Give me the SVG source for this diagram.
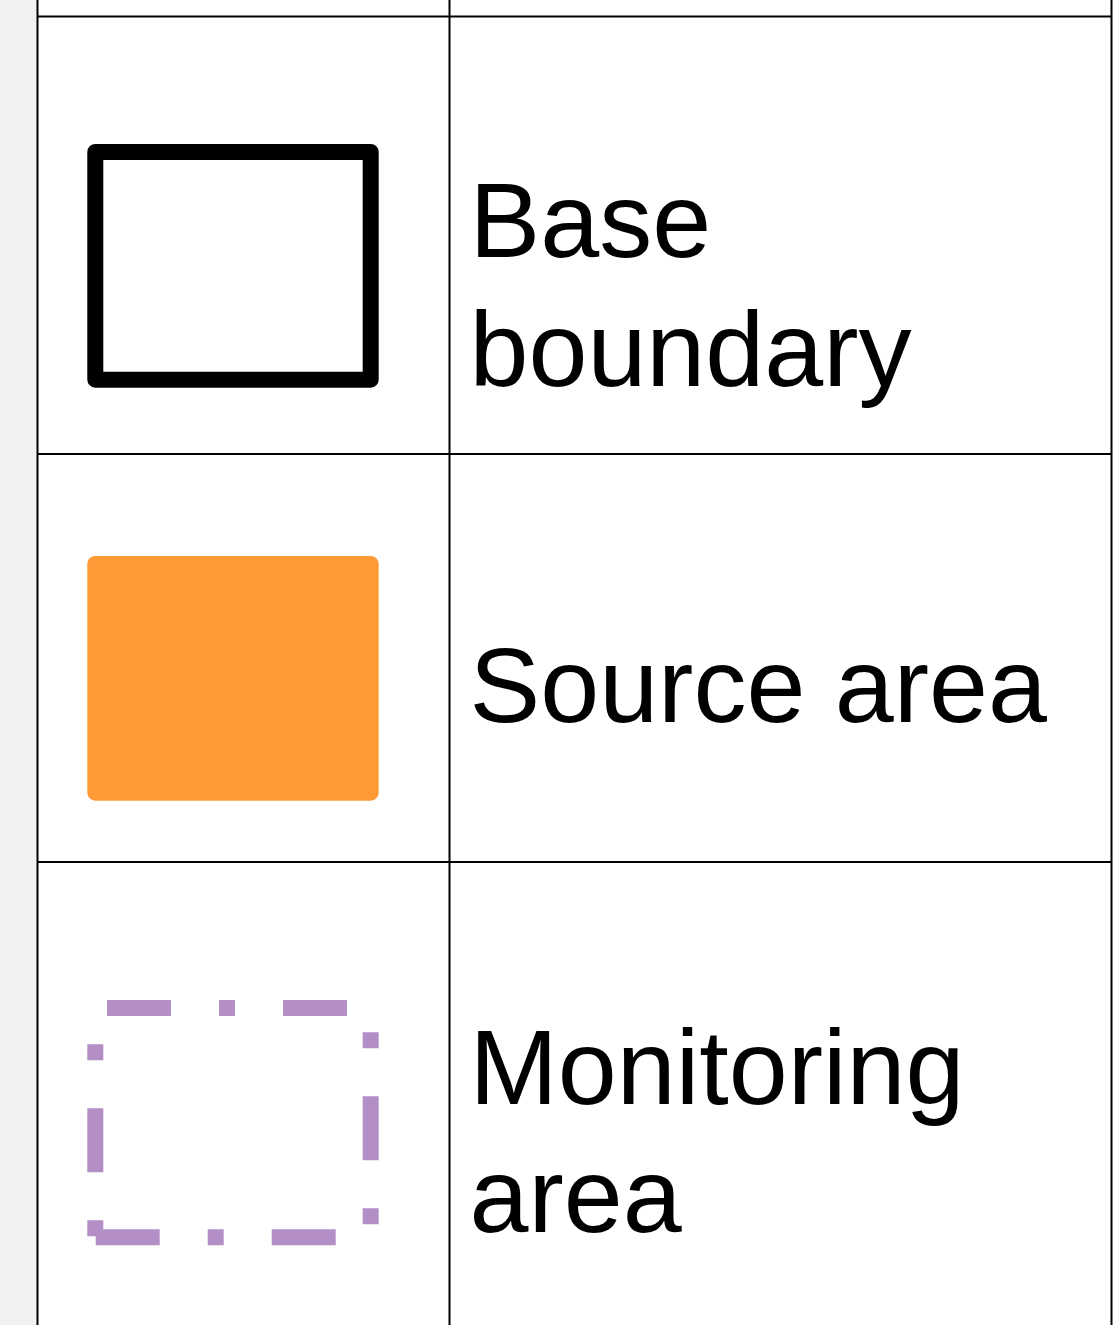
<svg xmlns="http://www.w3.org/2000/svg" width="1115" height="1325" viewBox="0 0 1115 1325">
<style>
.grid{stroke:#000;stroke-width:2;fill:none}
.lbl{font-family:"Liberation Sans",Arial,sans-serif;font-size:106px;fill:#000}
</style>
<rect x="0" y="0" width="1115" height="1325" fill="#ffffff"/>
<rect x="0" y="0" width="37" height="1325" fill="#f1f1f3"/>
<g id="table" class="grid">
<line x1="37.5" y1="0" x2="37.5" y2="1325"/>
<line x1="449.5" y1="0" x2="449.5" y2="1325"/>
<line x1="1111.5" y1="0" x2="1111.5" y2="1325"/>
<line x1="37.5" y1="16.5" x2="1111.5" y2="16.5"/>
<line x1="37.5" y1="454" x2="1111.5" y2="454"/>
<line x1="37.5" y1="862" x2="1111.5" y2="862"/>
</g>
<g id="base-boundary">
<rect x="95.3" y="152" width="275.4" height="227.7" fill="#fff" stroke="#000" stroke-width="16" stroke-linejoin="round"/>
<text class="lbl" x="469.5" y="257">Base</text>
<text class="lbl" x="469.5" y="386">boundary</text>
</g>
<g id="source-area">
<rect x="87.3" y="556" width="291.4" height="244.7" rx="8" fill="#ff9a36"/>
<text class="lbl" x="469.5" y="722">Source area</text>
</g>
<g id="monitoring-area">
<path d="M95.3,1237.3 V1008 H370.7 V1237.3 Z" fill="none" stroke="#b48fc7" stroke-width="16" stroke-dasharray="64 48 16 48" stroke-dashoffset="111"/>
<text class="lbl" x="469.5" y="1104">Monitoring</text>
<text class="lbl" x="469.5" y="1232">area</text>
</g>
<g id="connectors"/>
</svg>
